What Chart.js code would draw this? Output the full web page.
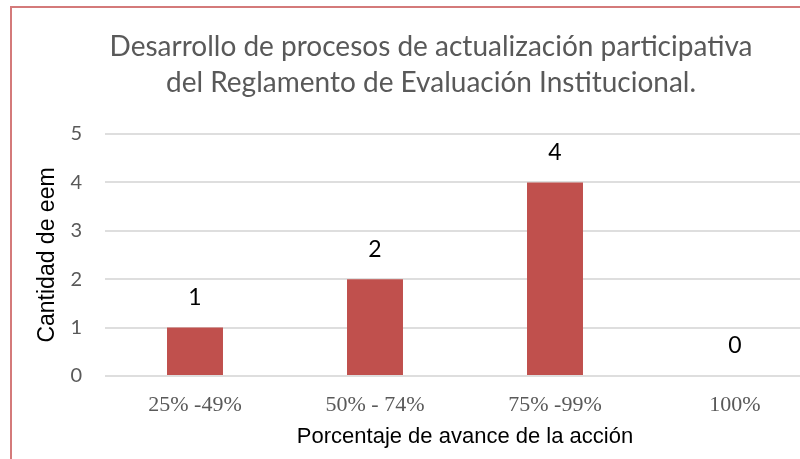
<!DOCTYPE HTML>
<html lang="es">
<head>
    <meta charset="utf-8">
    <script src="https://cdn.jsdelivr.net/npm/chart.js@4.4.0/dist/chart.umd.min.js"></script>
    <style>
        html, body { margin: 0; padding: 0; background: #fff; overflow: hidden; }
        #marco {
            position: absolute; left: 10px; top: 6px;
            width: 850px; height: 460px;
            border-left: 2px solid #d47a7a; border-top: 2px solid #d47a7a;
        }
        #grafica { position: absolute; left: 0; top: 0; }
    </style>
</head>
<body>
    <div id="marco">
        <canvas id="grafica" width="840" height="452"></canvas>
    </div>
<script>
    const categorias = ['25% -49%', '50% - 74%', '75% -99%', '100%']
    const cantidades = [1, 2, 4, 0]
    const marcasY = [0, 1, 2, 3, 4, 5]
    const titulo = ['Desarrollo de procesos de actualización participativa', 'del Reglamento de Evaluación Institucional.']

    // etiquetas con el valor encima de cada barra
    const etiquetasValor = {
        id: 'etiquetasValor',
        afterDatasetsDraw(chart) {
            const ctx = chart.ctx
            const meta = chart.getDatasetMeta(0)
            ctx.save()
            ctx.font = '23px Lato'
            ctx.fillStyle = '#000'
            ctx.textAlign = 'center'
            ctx.textBaseline = 'middle'
            meta.data.forEach((barra, i) => {
                ctx.fillText(String(cantidades[i]), barra.x, barra.y - 30)
            })
            ctx.restore()
        }
    }

    new Chart(document.querySelector('#grafica'), {
        type: 'bar',
        data: {
            labels: categorias,
            datasets: [{
                data: cantidades,
                backgroundColor: '#c0504d',
                barPercentage: 0.622,
                categoryPercentage: 0.5
            }]
        },
        options: {
            responsive: false,
            animation: false,
            layout: { padding: { left: 25, right: 27, top: 0, bottom: 0 } },
            plugins: {
                legend: { display: false },
                tooltip: { enabled: false },
                title: {
                    display: true,
                    text: titulo,
                    color: '#595959',
                    font: { family: 'Lato', size: 28, weight: 'normal', lineHeight: 36 / 28 },
                    padding: { top: 21, bottom: 33 }
                }
            },
            scales: {
                x: {
                    afterFit: (eje) => { eje.height = 84 },
                    grid: { display: false },
                    border: { display: false },
                    ticks: {
                        color: '#595959',
                        padding: 8,
                        maxRotation: 0,
                        font: { family: 'Liberation Serif', size: 22 }
                    },
                    title: {
                        display: true,
                        text: 'Porcentaje de avance de la acción',
                        color: '#000',
                        font: { family: 'Liberation Sans', size: 22 },
                        padding: { top: 0, bottom: 10 }
                    }
                },
                y: {
                    min: 0,
                    max: 5,
                    afterBuildTicks: (eje) => { eje.ticks = marcasY.map(v => ({ value: v })) },
                    afterFit: (eje) => { eje.width = 68 },
                    grid: { color: '#dedede', lineWidth: 2, drawTicks: false },
                    border: { display: false },
                    ticks: {
                        color: '#595959',
                        padding: 23,
                        font: { family: 'Lato', size: 20 }
                    },
                    title: {
                        display: true,
                        text: 'Cantidad de eem',
                        color: '#000',
                        font: { family: 'Liberation Sans', size: 23 },
                        padding: { top: -3, bottom: 0 }
                    }
                }
            }
        },
        plugins: [etiquetasValor]
    })
</script>
</body>
</html>
